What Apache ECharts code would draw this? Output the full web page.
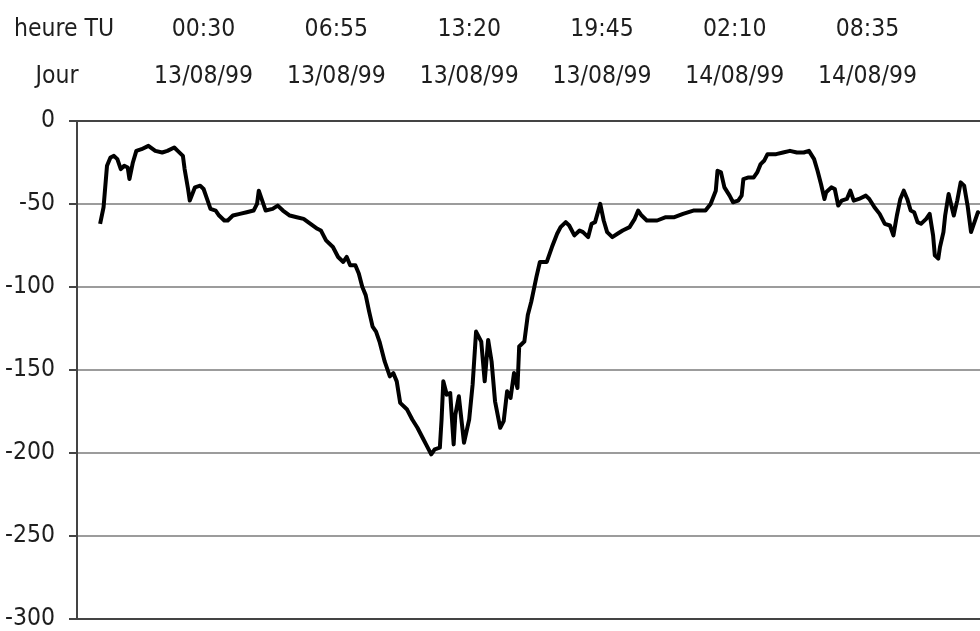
<!DOCTYPE html>
<html>
<head>
<meta charset="utf-8">
<script src="https://cdn.jsdelivr.net/npm/echarts@6/dist/echarts.min.js"></script>
<style>
html,body{margin:0;padding:0;background:#fff;}
#c{width:980px;height:631px;}
</style>
</head>
<body>
<div id="c"></div>
<script>
// Time in minutes since 12/08/99 00:00 (UT)
const times = [
1170,1180,1190,1200,1210,1220,1230,1240,1250,1255,1265,1275,1290,1310,1330,1350,1365,1385,1395,1410,
1415,1425,1430,1435,1445,1460,1470,1480,1490,1505,1515,1530,1540,1555,1575,1595,1615,1625,1630,1640,
1650,1670,1685,1700,1720,1740,1760,1780,1800,1810,1825,1845,1860,1875,1885,1895,1910,1920,1930,1940,
1950,1960,1970,1980,1995,2010,2020,2030,2040,2060,2075,2090,2105,2115,2130,2140,2155,2160,2165,2175,
2185,2195,2200,2210,2225,2240,2250,2260,2275,2285,2295,2305,2315,2330,2340,2350,2360,2370,2380,2385,
2400,2410,2420,2435,2445,2465,2480,2495,2505,2520,2530,2545,2560,2570,2585,2595,2605,2620,2630,2640,
2655,2670,2685,2705,2720,2730,2740,2755,2785,2810,2835,2860,2890,2925,2940,2955,2960,2970,2980,2995,
3005,3020,3030,3035,3050,3065,3075,3085,3095,3105,3130,3150,3170,3190,3210,3225,3240,3250,3260,3270,
3275,3290,3300,3310,3320,3335,3345,3355,3370,3390,3400,3415,3430,3445,3460,3470,3480,3490,3500,3510,
3520,3530,3540,3550,3565,3575,3585,3590,3600,3605,3615,3620,3630,3635,3645,3655,3665,3675,3685,3695,
3705,3715,3720
];
const values = [
-62,-52,-27,-22,-21,-23,-29,-27,-28,-35,-25,-18,-17,-15,-18,-19,-18,-16,-18,-21,
-29,-41,-48,-47,-40,-39,-41,-47,-53,-54,-57,-60,-60,-57,-56,-55,-54,-50,-42,-48,
-54,-53,-51,-54,-57,-58,-59,-62,-65,-66,-72,-76,-82,-85,-82,-87,-87,-92,-100,-105,
-115,-124,-127,-133,-145,-154,-152,-157,-170,-174,-180,-185,-191,-195,-201,-198,-197,-180,-157,-165,
-164,-195,-177,-166,-194,-180,-159,-127,-133,-157,-132,-145,-169,-185,-181,-163,-167,-152,-161,-136,
-133,-117,-109,-94,-85,-85,-76,-68,-64,-61,-63,-69,-66,-67,-70,-62,-61,-50,-60,-67,
-70,-68,-66,-64,-59,-54,-57,-60,-60,-58,-58,-56,-54,-54,-50,-42,-30,-31,-40,-45,
-49,-48,-45,-35,-34,-34,-31,-26,-24,-20,-20,-19,-18,-19,-19,-18,-23,-30,-38,-47,
-43,-40,-41,-51,-48,-47,-42,-48,-47,-45,-47,-52,-56,-62,-63,-69,-57,-47,-42,-47,
-54,-55,-61,-62,-59,-56,-69,-81,-83,-76,-67,-57,-44,-45,-57,-48,-37,-39,-51,-67,
-61,-55,-56
];
const labelMinutes = [1470, 1855, 2240, 2625, 3010, 3395];
const hourLabels = ['00:30', '06:55', '13:20', '19:45', '02:10', '08:35'];
const dayLabels = ['13/08/99', '13/08/99', '13/08/99', '13/08/99', '14/08/99', '14/08/99'];
const yTicks = [0, -50, -100, -150, -200, -250, -300];

// pick a narrow font if one is installed, and size it close to the reference text width
const ctx = document.createElement('canvas').getContext('2d');
function w(font, s) { ctx.font = font; return ctx.measureText(s).width; }
function has(name) {
  const s = '13/08/99 heure TU';
  return ['monospace', 'serif'].some(g => w('40px "' + name + '", ' + g, s) !== w('40px ' + g, s));
}
const cands = ['Liberation Sans Narrow', 'Arial Narrow', 'DejaVu Sans Condensed', 'Liberation Sans'];
let fam = 'Liberation Sans';
for (const c of cands) { if (has(c)) { fam = c; break; } }
const FONT = '"' + fam + '", sans-serif';
const fs = Math.min(29, Math.round(29 * 99 / w('29px ' + FONT, '13/08/99') * 2) / 2);
const TXT = '#1e1e1e';
const X_MIN = 1103, X_MAX = 3721;

function pick(arr) {
  return function (v) {
    const i = labelMinutes.findIndex(m => Math.abs(m - v) < 1);
    return i >= 0 ? arr[i] : '';
  };
}

const chart = echarts.init(document.getElementById('c'), null, {renderer: 'canvas'});
chart.setOption({
  animation: false,
  backgroundColor: '#ffffff',
  grid: {left: 77, right: 0, top: 121, bottom: 8, containLabel: false},
  graphic: [
    {type: 'text', x: 64, y: 30, style: {text: 'heure TU', font: fs + 'px ' + FONT, fill: TXT, align: 'center', verticalAlign: 'middle'}},
    {type: 'text', x: 57, y: 77, style: {text: 'Jour', font: fs + 'px ' + FONT, fill: TXT, align: 'center', verticalAlign: 'middle'}}
  ],
  xAxis: [
    {
      type: 'value', position: 'top', min: X_MIN, max: X_MAX,
      axisLine: {show: true, lineStyle: {color: '#444', width: 2}},
      axisTick: {show: false},
      splitLine: {show: false},
      axisLabel: {
        customValues: labelMinutes, formatter: pick(dayLabels), margin: 44 - fs / 2,
        fontFamily: FONT, fontSize: fs, color: TXT
      }
    },
    {
      type: 'value', position: 'top', min: X_MIN, max: X_MAX,
      axisLine: {show: false}, axisTick: {show: false}, splitLine: {show: false},
      axisLabel: {
        customValues: labelMinutes, formatter: pick(hourLabels), margin: 91 - fs / 2,
        fontFamily: FONT, fontSize: fs, color: TXT
      }
    },
    {
      type: 'value', position: 'bottom', min: X_MIN, max: X_MAX,
      axisLine: {show: true, lineStyle: {color: '#444', width: 2}},
      axisTick: {show: false}, splitLine: {show: false}, axisLabel: {show: false}
    }
  ],
  yAxis: {
    type: 'value', min: -300, max: 0, interval: 50,
    axisLine: {show: true, lineStyle: {color: '#444', width: 2}},
    axisTick: {show: true, length: 8, lineStyle: {color: '#444', width: 2}},
    splitLine: {show: true, lineStyle: {color: '#9c9c9c', width: 2}},
    axisLabel: {
      customValues: yTicks, margin: 22, fontFamily: FONT, fontSize: fs, color: TXT
    }
  },
  series: [{
    type: 'line', xAxisIndex: 0, yAxisIndex: 0,
    data: times.map((t, i) => [t, values[i]]),
    showSymbol: false, symbol: 'none',
    lineStyle: {color: '#000', width: 4, join: 'round'},
    clip: true
  }]
});
</script>
</body>
</html>
